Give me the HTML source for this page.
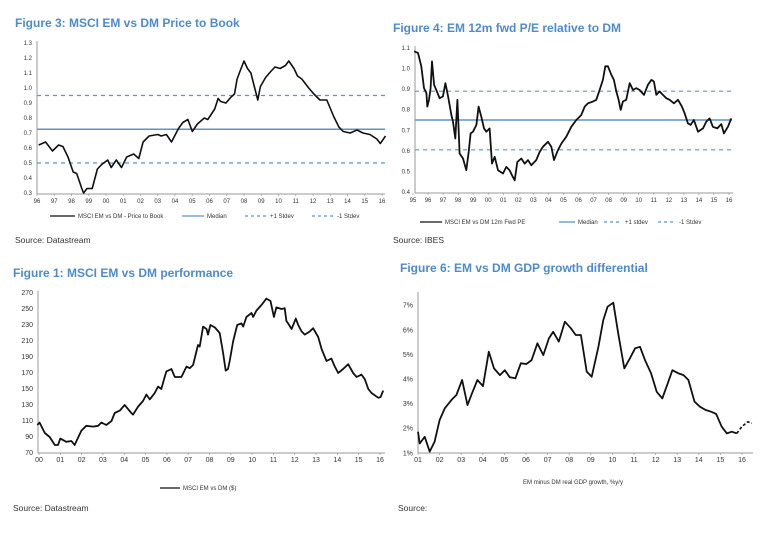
<!DOCTYPE html>
<html><head><meta charset="utf-8">
<style>
html,body{margin:0;padding:0;background:#fff;}
svg{display:block;font-family:"Liberation Sans",Arial,sans-serif;}
.title{font-weight:bold;fill:#4f8bc9;font-size:12px;}
.tick{font-size:6px;fill:#333;}
.tickb{font-size:7px;fill:#333;}
.leg{font-size:6px;fill:#333;}
.src{font-size:8.5px;fill:#333;}
</style></head>
<body>
<svg id="root" width="775" height="536" viewBox="0 0 775 536">
<text class="title" x="15" y="27">Figure 3: MSCI EM vs DM Price to Book</text>
<text class="title" x="393" y="32">Figure 4: EM 12m fwd P/E relative to DM</text>
<text class="title" x="13" y="277">Figure 1: MSCI EM vs DM performance</text>
<text class="title" x="400" y="272">Figure 6: EM vs DM GDP growth differential</text>
<text class="src" x="15" y="243">Source: Datastream</text>
<text class="src" x="393" y="243">Source: IBES</text>
<text class="src" x="13" y="511">Source: Datastream</text>
<text class="src" x="398" y="511">Source:</text>
</svg>
<script>
// Figure 3 data
const f3Years = [1996.1,1996.5,1996.9,1997.25,1997.5,1997.8,1998.1,1998.3,1998.6,1998.7,1998.9,1999.2,1999.5,1999.75,2000.1,2000.3,2000.6,2000.9,2001.2,2001.6,2001.9,2002.15,2002.5,2003.0,2003.2,2003.5,2003.8,2004.2,2004.45,2004.75,2005.0,2005.3,2005.7,2005.9,2006.3,2006.5,2006.65,2006.95,2007.25,2007.45,2007.6,2007.8,2008.0,2008.2,2008.4,2008.6,2008.8,2008.95,2009.25,2009.55,2009.8,2010.1,2010.4,2010.6,2010.9,2011.1,2011.35,2011.75,2012.05,2012.4,2012.8,2013.2,2013.5,2013.75,2014.15,2014.55,2014.9,2015.3,2015.7,2015.9,2016.2];
const f3Values = [0.62,0.64,0.58,0.62,0.61,0.54,0.44,0.43,0.33,0.30,0.33,0.33,0.46,0.49,0.52,0.47,0.52,0.47,0.54,0.56,0.53,0.64,0.68,0.69,0.68,0.69,0.64,0.73,0.77,0.79,0.71,0.76,0.80,0.79,0.86,0.93,0.91,0.90,0.94,0.96,1.06,1.12,1.18,1.13,1.10,1.01,0.92,1.01,1.07,1.11,1.14,1.13,1.15,1.18,1.13,1.08,1.06,1.00,0.96,0.92,0.92,0.81,0.74,0.71,0.70,0.72,0.70,0.69,0.66,0.63,0.68];
const f3Ticks = [0.3,0.4,0.5,0.6,0.7,0.8,0.9,1.0,1.1,1.2,1.3];
const f3XLabels = ["96","97","98","99","00","01","02","03","04","05","06","07","08","09","10","11","12","13","14","15","16"];
const f3Ref = [0.725,0.95,0.5]; // median, +1, -1
// Figure 4 data
const f4Years = [1995.07,1995.33,1995.55,1995.73,1995.89,1995.95,1996.06,1996.17,1996.26,1996.40,1996.55,1996.77,1996.99,1997.15,1997.33,1997.55,1997.66,1997.81,1997.95,1998.10,1998.32,1998.54,1998.70,1998.83,1998.99,1999.21,1999.36,1999.54,1999.72,1999.87,2000.09,2000.25,2000.43,2000.65,2000.98,2001.20,2001.42,2001.58,2001.76,2001.93,2002.20,2002.42,2002.64,2002.86,2003.19,2003.42,2003.64,2003.97,2004.19,2004.37,2004.63,2004.86,2005.19,2005.52,2005.85,2006.18,2006.41,2006.63,2006.96,2007.18,2007.40,2007.62,2007.78,2007.95,2008.18,2008.35,2008.51,2008.66,2008.80,2008.95,2009.17,2009.40,2009.62,2009.84,2010.06,2010.35,2010.61,2010.84,2011.01,2011.17,2011.39,2011.61,2011.83,2012.05,2012.34,2012.61,2012.87,2013.05,2013.27,2013.45,2013.67,2013.94,2014.27,2014.49,2014.71,2014.93,2015.22,2015.49,2015.66,2015.93,2016.15];
const f4Values = [1.084,1.076,1.011,0.905,0.881,0.815,0.848,0.905,1.035,0.921,0.896,0.856,0.864,0.929,0.864,0.774,0.742,0.660,0.848,0.587,0.563,0.506,0.595,0.685,0.693,0.726,0.815,0.766,0.709,0.693,0.709,0.538,0.571,0.506,0.490,0.522,0.506,0.481,0.457,0.546,0.563,0.538,0.555,0.530,0.555,0.595,0.620,0.644,0.620,0.555,0.603,0.636,0.669,0.717,0.750,0.774,0.815,0.831,0.840,0.848,0.896,0.945,1.011,1.011,0.970,0.945,0.889,0.848,0.799,0.840,0.848,0.929,0.896,0.905,0.896,0.872,0.921,0.945,0.937,0.872,0.889,0.872,0.856,0.848,0.831,0.848,0.815,0.783,0.734,0.726,0.750,0.693,0.709,0.742,0.758,0.717,0.709,0.730,0.685,0.717,0.758];
const f4Ticks = [0.4,0.5,0.6,0.7,0.8,0.9,1.0,1.1];
const f4XLabels = ["95","96","97","98","99","00","01","02","03","04","05","06","07","08","09","10","11","12","13","14","15","16"];
const f4Ref = [0.75,0.89,0.605];
// Figure 1 data
const f1Years = [1999.92,2000.03,2000.27,2000.5,2000.74,2000.89,2001.0,2001.28,2001.52,2001.67,2001.99,2002.22,2002.54,2002.77,2002.93,2003.16,2003.40,2003.55,2003.79,2004.02,2004.33,2004.41,2004.65,2004.88,2005.04,2005.20,2005.43,2005.59,2005.74,2005.90,2005.98,2006.21,2006.37,2006.68,2006.92,2007.07,2007.23,2007.46,2007.54,2007.70,2007.86,2007.93,2008.04,2008.25,2008.48,2008.64,2008.76,2008.87,2008.95,2009.11,2009.30,2009.50,2009.58,2009.73,2009.97,2010.05,2010.20,2010.44,2010.67,2010.86,2011.02,2011.14,2011.38,2011.53,2011.61,2011.69,2011.85,2012.05,2012.16,2012.32,2012.47,2012.71,2012.86,2013.10,2013.26,2013.49,2013.72,2013.88,2014.04,2014.27,2014.51,2014.74,2014.90,2015.13,2015.29,2015.45,2015.60,2015.76,2015.92,2016.03,2016.15];
const f1Values = [105,108,95,90,80,80,88,84,85,80,98,104,103,104,108,105,110,120,123,130,120,118,128,135,143,137,145,153,150,165,172,175,165,165,178,176,180,205,203,228,225,218,230,227,220,195,173,175,185,210,230,232,228,240,245,240,248,255,263,260,240,252,250,251,235,232,225,238,230,222,218,222,226,215,200,185,188,178,170,175,181,170,165,168,162,150,145,142,139,140,148];
const f1Ticks = [70,90,110,130,150,170,190,210,230,250,270];
const f1XLabels = ["00","01","02","03","04","05","06","07","08","09","10","11","12","13","14","15","16"];
// Figure 6 data
const f6Years = [2001.0,2001.08,2001.31,2001.54,2001.77,2002.0,2002.24,2002.55,2002.78,2003.04,2003.29,2003.50,2003.75,2004.01,2004.28,2004.52,2004.79,2005.02,2005.25,2005.51,2005.76,2006.02,2006.26,2006.53,2006.80,2007.06,2007.26,2007.52,2007.80,2008.08,2008.30,2008.54,2008.81,2009.04,2009.35,2009.58,2009.78,2010.04,2010.27,2010.55,2010.81,2011.05,2011.28,2011.51,2011.79,2012.05,2012.31,2012.56,2012.78,2013.06,2013.29,2013.52,2013.80,2014.06,2014.32,2014.57,2014.80,2015.06,2015.30,2015.53,2015.76];
const f6Values = [1.88,1.4,1.67,1.07,1.47,2.35,2.83,3.17,3.37,3.98,2.96,3.44,3.98,3.73,5.13,4.45,4.18,4.38,4.09,4.05,4.66,4.63,4.79,5.47,4.99,5.67,5.94,5.54,6.35,6.08,5.81,5.81,4.32,4.11,5.33,6.42,6.96,7.12,5.88,4.45,4.86,5.27,5.33,4.79,4.25,3.50,3.23,3.84,4.38,4.25,4.18,3.98,3.10,2.89,2.76,2.69,2.60,2.08,1.81,1.88,1.81];
const f6FcstYears = [2015.76,2015.99,2016.27,2016.46];
const f6FcstValues = [1.81,2.08,2.28,2.22];
const f6Ticks = [1,2,3,4,5,6,7];
const f6XLabels = ["01","02","03","04","05","06","07","08","09","10","11","12","13","14","15","16"];

const NS="http://www.w3.org/2000/svg";
const root=document.getElementById('root');
function mk(tag,attrs,parent){const e=document.createElementNS(NS,tag);for(const k in attrs)e.setAttribute(k,attrs[k]);(parent||root).appendChild(e);return e;}
function scale(d0,d1,r0,r1){return v=>r0+(v-d0)/(d1-d0)*(r1-r0);}

function axes(g,xL,xR,yT,yB,yS,ticks,fmt,xLabels,xS,y0,cls,name){
  const ax=mk('line',{x1:xL,y1:yT-2,x2:xL,y2:yB,stroke:'#999','stroke-width':1},g);
  
  
  const bx=mk('line',{x1:xL,y1:yB,x2:xR,y2:yB,stroke:'#999','stroke-width':1},g);
  
  
  ticks.forEach(t=>{const tx=mk('text',{x:xL-5,y:yS(t)+2,'text-anchor':'end',class:cls},g);tx.textContent=fmt(t);
    
    });
  xLabels.forEach((l,i)=>{const x=xS(y0+i);
    mk('line',{x1:x,y1:yB,x2:x,y2:yB+2,stroke:'#999','stroke-width':0.7},g);
    const tx=mk('text',{x:x,y:yB+9,'text-anchor':'middle',class:cls},g);tx.textContent=l;
    
    });
}
function series(g,xs,ys,xS,yS,opts,name){
  const d=xs.map((x,i)=>(i?'L':'M')+xS(x).toFixed(1)+','+yS(ys[i]).toFixed(1)).join('');
  const p=mk('path',Object.assign({d:d,fill:'none',stroke:'#111','stroke-width':1.6,'stroke-linejoin':'round'},opts||{}),g);
  
  
  return p;
}
function refLines(g,refs,xL,xR,yS,name){
  refs.forEach((r,i)=>{const l=mk('line',{x1:xL,y1:yS(r),x2:xR,y2:yS(r),stroke:'#5b93c9','stroke-width':i?1.2:1.4,'stroke-dasharray':i?'4,4':'none'},g);
    
    });
}
function legendItem(g,x,y,len,stroke,dash,label,name){
  const l=mk('line',{x1:x,y1:y,x2:x+len,y2:y,stroke:stroke,'stroke-width':1.3,'stroke-dasharray':dash||'none'},g);
  
  
  const t=mk('text',{x:x+len+3,y:y+2,class:'leg'},g);t.textContent=label;
  
  
}

// Figure 3
(function(){
  const g=mk('g',{});
  const xS=scale(1996,2016,37,382), yS=scale(0.3,1.3,193,43);
  refLines(g,f3Ref,37,385,yS,'figure3');
  axes(g,37,385,43,194,yS,f3Ticks,t=>t.toFixed(1),f3XLabels,xS,1996,'tick','figure3');
  series(g,f3Years,f3Values,xS,yS,{},'figure3-price-to-book-line');
  legendItem(g,50,216,25,'#111','','MSCI EM vs DM - Price to Book','figure3-legend-ptb');
  legendItem(g,182,216,22,'#5b93c9','','Median','figure3-legend-median');
  legendItem(g,245,216,22,'#5b93c9','3,3','+1 Stdev','figure3-legend-plus1');
  legendItem(g,312,216,22,'#5b93c9','3,3','-1 Stdev','figure3-legend-minus1');
})();
// Figure 4
(function(){
  const g=mk('g',{});
  const xS=scale(1995,2016,413,729), yS=scale(0.4,1.1,192,48);
  refLines(g,f4Ref,415,732,yS,'figure4');
  axes(g,415,733,48,193,yS,f4Ticks,t=>t.toFixed(1),f4XLabels,xS,1995,'tick','figure4');
  series(g,f4Years,f4Values,xS,yS,{'stroke-width':1.8},'figure4-pe-line');
  legendItem(g,420,222,22,'#111','','MSCI EM vs DM 12m Fwd PE','figure4-legend-pe');
  legendItem(g,559,222,16,'#5b93c9','','Median','figure4-legend-median');
  legendItem(g,604,222,18,'#5b93c9','3,3','+1 stdev','figure4-legend-plus1');
  legendItem(g,658,222,18,'#5b93c9','3,3','-1 Stdev','figure4-legend-minus1');
})();
// Figure 1
(function(){
  const g=mk('g',{});
  const xS=scale(2000,2016,39,380), yS=scale(70,270,453,293);
  axes(g,38,385,293,453,yS,f1Ticks,t=>String(t),f1XLabels,xS,2000,'tickb','figure1');
  series(g,f1Years,f1Values,xS,yS,{'stroke-width':1.8},'figure1-performance-line');
  legendItem(g,160,488,20,'#111','','MSCI EM vs DM ($)','figure1-legend');
})();
// Figure 6
(function(){
  const g=mk('g',{});
  const xS=scale(2001,2016,418,742), yS=scale(1,7,453.3,305.7);
  axes(g,418,753,294,453,yS,f6Ticks,t=>t+'%',f6XLabels,xS,2001,'tickb','figure6');
  series(g,f6Years,f6Values,xS,yS,{'stroke-width':1.8},'figure6-gdp-differential-line');
  series(g,f6FcstYears,f6FcstValues,xS,yS,{'stroke-width':1.6,'stroke-dasharray':'3,2'},'figure6-forecast-line');
  const t=mk('text',{x:573,y:484,'text-anchor':'middle',class:'leg'},g);t.textContent='EM minus DM real GDP growth, %y/y';
  
  
})();
</script>
</body></html>
